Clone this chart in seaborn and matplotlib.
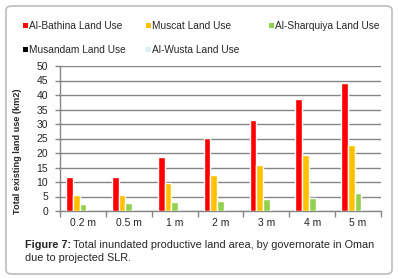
import matplotlib
matplotlib.use("Agg")
import matplotlib.pyplot as plt
from matplotlib.patches import FancyBboxPatch, Patch
import numpy as np
import pandas as pd
import seaborn as sns

levels = ["0.2 m", "0.5 m", "1 m", "2 m", "3 m", "4 m", "5 m"]
series = ["Al-Bathina Land Use", "Muscat Land Use", "Al-Sharquiya Land Use",
          "Musandam Land Use", "Al-Wusta Land Use"]
bathina = [11.7, 11.7, 18.6, 25.3, 31.4, 38.7, 44.0]
muscat = [5.5, 5.5, 9.5, 12.5, 15.9, 19.4, 22.6]
sharquiya = [2.4, 2.6, 3.2, 3.6, 4.0, 4.6, 6.1]
musandam = [0, 0, 0, 0, 0, 0, 0]
wusta = [0, 0, 0, 0, 0, 0, 0]
colors = ["#FF0000", "#FFC000", "#92D050", "#000000", "#DAEEF3"]

rows = []
for name, vals in zip(series, [bathina, muscat, sharquiya, musandam, wusta]):
    for lv, v in zip(levels, vals):
        rows.append({"SLR": lv, "Governorate": name, "Area": v})
df = pd.DataFrame(rows)

sns.set_style("white")
plt.rcParams["font.family"] = ["Liberation Sans", "DejaVu Sans"]

fig = plt.figure(figsize=(3.98, 2.79), dpi=100)
ax = fig.add_axes([60 / 398, 1 - 211 / 279, 321 / 398, 145 / 279])

sns.barplot(data=df, x="SLR", y="Area", hue="Governorate", order=levels,
            hue_order=series, palette=colors, width=0.73, gap=0,
            saturation=1, legend=False, ax=ax, zorder=3)

ax.set_ylim(0, 50)
ax.set_xlim(-0.5, len(levels) - 0.5)
ax.set_yticks(np.arange(0, 51, 5))
ax.yaxis.grid(True, color="#868686", linewidth=1, zorder=0)
ax.set_axisbelow(True)
ax.tick_params(axis="y", length=3.5, width=1, color="#868686", labelsize=7.5, pad=5, left=True)
ax.tick_params(axis="x", which="major", length=0, labelsize=7.5, pad=5)
ax.set_xticks(np.arange(-0.5, len(levels)), minor=True)
ax.tick_params(axis="x", which="minor", length=4, width=1, color="#868686", bottom=True)
for s in ["top", "right"]:
    ax.spines[s].set_visible(False)
for s in ["left", "bottom"]:
    ax.spines[s].set_color("#868686")
    ax.spines[s].set_linewidth(1)
ax.set_xlabel("")
ax.set_ylabel("")
fig.text(18 / 398, 1 - 151 / 279, "Total existing land use (km2)", fontsize=6.6,
         fontweight="bold", rotation=90, ha="center", va="center")

# legend: three columns placed at fixed x, rows filled left to right
handles = [Patch(facecolor=c, edgecolor="none") for c in colors]
col_x = [23, 146, 269]
for j, x in enumerate(col_x):
    idx = [i for i in range(len(series)) if i % 3 == j]
    fig.legend([handles[i] for i in idx], [series[i] for i in idx],
               loc="upper left", bbox_to_anchor=(x / 398, 1 - 21 / 279),
               frameon=False, fontsize=7.3, handlelength=0.5, handleheight=0.5,
               handletextpad=0.1, labelspacing=1.4,
               borderaxespad=0, borderpad=0)

fig.text(25 / 398, 1 - 245 / 279, "Figure 7:", fontsize=7.8, fontweight="bold", va="center")
fig.text(73 / 398, 1 - 245 / 279, "Total inundated productive land area, by governorate in Oman",
         fontsize=7.8, va="center")
fig.text(25 / 398, 1 - 258 / 279, "due to projected SLR.", fontsize=7.8, va="center")

box = FancyBboxPatch((6 / 398, 5 / 279), 386 / 398, 268 / 279,
                     boxstyle="round,pad=0,rounding_size=0.015",
                     transform=fig.transFigure, facecolor="none",
                     edgecolor="#BDBDBD", linewidth=1.2)
fig.patches.append(box)

fig.savefig("out.png", dpi=100)
